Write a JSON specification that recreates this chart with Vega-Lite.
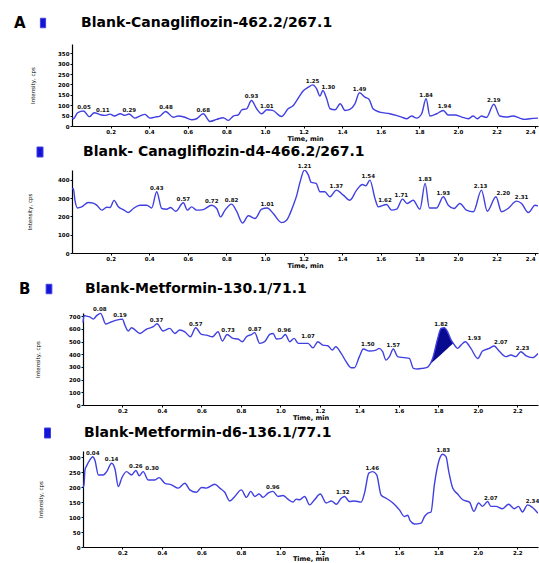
{
  "$schema": "https://vega.github.io/schema/vega-lite/v6.json",
  "background": "white",
  "padding": {"left": 14, "top": 16, "right": 0, "bottom": 0},
  "bounds": "flush",
  "spacing": 44,
  "resolve": {"scale": {"color": "independent", "x": "independent", "y": "independent"}, "legend": {"color": "independent"}},
  "config": {
    "view": {"stroke": null},
    "axis": {"grid": false, "domainColor": "#000", "domainWidth": 1.2, "tickColor": "#000", "tickSize": 2, "tickWidth": 1,
      "labelFont": "DejaVu Sans", "labelFontSize": 5.5, "labelFontWeight": "bold", "labelColor": "#000", "labelPadding": 1, "labelOverlap": false,
      "titleFont": "DejaVu Sans", "titleColor": "#000"},
    "axisX": {"titleFontSize": 6.5, "titleFontWeight": "bold", "titlePadding": 1},
    "axisY": {"titleFontSize": 5.5, "titleFontWeight": "normal", "titlePadding": 18},
    "legend": {"orient": "none", "padding": 0, "labelFont": "DejaVu Sans", "labelFontSize": 14, "labelFontWeight": "bold", "labelColor": "#000", "labelLimit": 600,
      "titleFont": "DejaVu Sans", "titleFontSize": 15, "titleFontWeight": "bold", "titleColor": "#000", "titleOrient": "left"}
  },
  "datasets": {
    "p1": [
      {"t":0,"v":40},{"t":0.007,"v":35},{"t":0.03,"v":65},{"t":0.06,"v":72},{"t":0.09,"v":45},{"t":0.115,"v":64},{"t":0.145,"v":55},{"t":0.17,"v":51},{"t":0.197,"v":57},{"t":0.22,"v":48},{"t":0.25,"v":59},{"t":0.275,"v":51},{"t":0.295,"v":58},{"t":0.326,"v":38},{"t":0.352,"v":48},{"t":0.378,"v":56},{"t":0.404,"v":38},{"t":0.43,"v":43},{"t":0.456,"v":48},{"t":0.485,"v":70},{"t":0.525,"v":42},{"t":0.55,"v":48},{"t":0.585,"v":42},{"t":0.62,"v":30},{"t":0.646,"v":35},{"t":0.68,"v":59},{"t":0.715,"v":22},{"t":0.75,"v":32},{"t":0.784,"v":40},{"t":0.81,"v":27},{"t":0.836,"v":48},{"t":0.862,"v":54},{"t":0.88,"v":78},{"t":0.905,"v":83},{"t":0.93,"v":123},{"t":0.957,"v":83},{"t":0.983,"v":59},{"t":1.01,"v":78},{"t":1.04,"v":75},{"t":1.086,"v":46},{"t":1.12,"v":83},{"t":1.147,"v":99},{"t":1.165,"v":123},{"t":1.2,"v":171},{"t":1.225,"v":187},{"t":1.247,"v":198},{"t":1.268,"v":179},{"t":1.285,"v":144},{"t":1.3,"v":171},{"t":1.32,"v":131},{"t":1.337,"v":83},{"t":1.363,"v":78},{"t":1.39,"v":107},{"t":1.415,"v":75},{"t":1.44,"v":80},{"t":1.466,"v":107},{"t":1.49,"v":160},{"t":1.518,"v":139},{"t":1.54,"v":128},{"t":1.56,"v":83},{"t":1.595,"v":67},{"t":1.647,"v":59},{"t":1.68,"v":51},{"t":1.708,"v":43},{"t":1.734,"v":35},{"t":1.76,"v":48},{"t":1.786,"v":38},{"t":1.812,"v":59},{"t":1.835,"v":131},{"t":1.855,"v":48},{"t":1.89,"v":59},{"t":1.924,"v":75},{"t":1.95,"v":53},{"t":1.984,"v":53},{"t":2.02,"v":43},{"t":2.053,"v":35},{"t":2.08,"v":48},{"t":2.1,"v":35},{"t":2.122,"v":48},{"t":2.148,"v":41},{"t":2.186,"v":105},{"t":2.217,"v":48},{"t":2.252,"v":43},{"t":2.286,"v":48},{"t":2.32,"v":38},{"t":2.347,"v":32},{"t":2.373,"v":35},{"t":2.415,"v":38}
    ],
    "l1": [
      {"t":0.062,"v":72,"label":"0.05"},{"t":0.16,"v":60,"label":"0.11"},{"t":0.297,"v":58,"label":"0.29"},{"t":0.487,"v":70,"label":"0.48"},{"t":0.68,"v":59,"label":"0.68"},{"t":0.93,"v":123,"label":"0.93"},{"t":1.01,"v":78,"label":"1.01"},{"t":1.247,"v":198,"label":"1.25"},{"t":1.328,"v":171,"label":"1.30"},{"t":1.49,"v":160,"label":"1.49"},{"t":1.835,"v":131,"label":"1.84"},{"t":1.93,"v":75,"label":"1.94"},{"t":2.186,"v":105,"label":"2.19"}
    ],
    "p2": [
      {"t":0,"v":350},{"t":0.007,"v":352},{"t":0.015,"v":290},{"t":0.028,"v":246},{"t":0.05,"v":252},{"t":0.085,"v":276},{"t":0.11,"v":272},{"t":0.128,"v":261},{"t":0.154,"v":234},{"t":0.18,"v":250},{"t":0.197,"v":248},{"t":0.218,"v":287},{"t":0.24,"v":252},{"t":0.266,"v":237},{"t":0.292,"v":221},{"t":0.318,"v":243},{"t":0.352,"v":261},{"t":0.387,"v":261},{"t":0.413,"v":246},{"t":0.439,"v":334},{"t":0.465,"v":243},{"t":0.49,"v":239},{"t":0.511,"v":248},{"t":0.537,"v":228},{"t":0.577,"v":274},{"t":0.598,"v":234},{"t":0.62,"v":252},{"t":0.646,"v":234},{"t":0.68,"v":237},{"t":0.724,"v":261},{"t":0.75,"v":243},{"t":0.77,"v":197},{"t":0.793,"v":234},{"t":0.827,"v":267},{"t":0.853,"v":228},{"t":0.884,"v":164},{"t":0.914,"v":203},{"t":0.948,"v":188},{"t":0.983,"v":239},{"t":1.012,"v":246},{"t":1.043,"v":215},{"t":1.086,"v":166},{"t":1.112,"v":179},{"t":1.13,"v":215},{"t":1.147,"v":261},{"t":1.165,"v":316},{"t":1.18,"v":380},{"t":1.205,"v":453},{"t":1.225,"v":425},{"t":1.24,"v":385},{"t":1.265,"v":380},{"t":1.285,"v":334},{"t":1.31,"v":334},{"t":1.337,"v":307},{"t":1.37,"v":343},{"t":1.406,"v":316},{"t":1.44,"v":288},{"t":1.475,"v":343},{"t":1.505,"v":374},{"t":1.523,"v":367},{"t":1.544,"v":398},{"t":1.57,"v":298},{"t":1.587,"v":252},{"t":1.63,"v":265},{"t":1.656,"v":234},{"t":1.682,"v":239},{"t":1.713,"v":294},{"t":1.737,"v":270},{"t":1.768,"v":288},{"t":1.803,"v":239},{"t":1.83,"v":380},{"t":1.852,"v":246},{"t":1.89,"v":246},{"t":1.924,"v":307},{"t":1.95,"v":261},{"t":1.98,"v":243},{"t":2.01,"v":270},{"t":2.044,"v":234},{"t":2.08,"v":225},{"t":2.122,"v":343},{"t":2.152,"v":228},{"t":2.197,"v":307},{"t":2.226,"v":225},{"t":2.26,"v":243},{"t":2.304,"v":283},{"t":2.33,"v":270},{"t":2.365,"v":221},{"t":2.4,"v":261},{"t":2.415,"v":257}
    ],
    "l2": [
      {"t":0.439,"v":334,"label":"0.43"},{"t":0.577,"v":274,"label":"0.57"},{"t":0.724,"v":261,"label":"0.72"},{"t":0.827,"v":267,"label":"0.82"},{"t":1.012,"v":246,"label":"1.01"},{"t":1.205,"v":453,"label":"1.21"},{"t":1.37,"v":343,"label":"1.37"},{"t":1.535,"v":398,"label":"1.54"},{"t":1.622,"v":265,"label":"1.62"},{"t":1.707,"v":294,"label":"1.71"},{"t":1.83,"v":380,"label":"1.83"},{"t":1.924,"v":307,"label":"1.93"},{"t":2.117,"v":343,"label":"2.13"},{"t":2.235,"v":307,"label":"2.20"},{"t":2.33,"v":283,"label":"2.31"}
    ],
    "p3": [
      {"t":0,"v":650},{"t":0.006,"v":705},{"t":0.018,"v":700},{"t":0.032,"v":696},{"t":0.052,"v":677},{"t":0.069,"v":704},{"t":0.089,"v":722},{"t":0.116,"v":638},{"t":0.145,"v":656},{"t":0.17,"v":669},{"t":0.2,"v":677},{"t":0.212,"v":630},{"t":0.229,"v":583},{"t":0.246,"v":609},{"t":0.288,"v":564},{"t":0.322,"v":598},{"t":0.356,"v":617},{"t":0.375,"v":640},{"t":0.406,"v":583},{"t":0.44,"v":604},{"t":0.465,"v":564},{"t":0.49,"v":591},{"t":0.516,"v":577},{"t":0.544,"v":538},{"t":0.571,"v":609},{"t":0.6,"v":556},{"t":0.625,"v":551},{"t":0.656,"v":538},{"t":0.684,"v":577},{"t":0.706,"v":504},{"t":0.73,"v":556},{"t":0.76,"v":525},{"t":0.785,"v":520},{"t":0.807,"v":499},{"t":0.828,"v":538},{"t":0.853,"v":555},{"t":0.87,"v":570},{"t":0.895,"v":486},{"t":0.92,"v":499},{"t":0.946,"v":556},{"t":0.963,"v":564},{"t":0.98,"v":520},{"t":1.005,"v":525},{"t":1.025,"v":556},{"t":1.047,"v":499},{"t":1.07,"v":525},{"t":1.09,"v":486},{"t":1.106,"v":486},{"t":1.14,"v":486},{"t":1.165,"v":451},{"t":1.19,"v":499},{"t":1.215,"v":472},{"t":1.24,"v":467},{"t":1.263,"v":433},{"t":1.28,"v":459},{"t":1.308,"v":407},{"t":1.333,"v":341},{"t":1.358,"v":294},{"t":1.375,"v":294},{"t":1.4,"v":381},{"t":1.42,"v":441},{"t":1.451,"v":425},{"t":1.485,"v":433},{"t":1.5,"v":446},{"t":1.518,"v":420},{"t":1.535,"v":354},{"t":1.552,"v":381},{"t":1.572,"v":441},{"t":1.594,"v":381},{"t":1.628,"v":373},{"t":1.653,"v":367},{"t":1.674,"v":289},{"t":1.696,"v":284},{"t":1.72,"v":289},{"t":1.74,"v":294},{"t":1.771,"v":367},{"t":1.797,"v":525},{"t":1.814,"v":604},{"t":1.83,"v":609},{"t":1.847,"v":577},{"t":1.865,"v":512},{"t":1.876,"v":486},{"t":1.898,"v":446},{"t":1.915,"v":472},{"t":1.937,"v":499},{"t":1.965,"v":446},{"t":2.0,"v":367},{"t":2.024,"v":425},{"t":2.058,"v":446},{"t":2.083,"v":465},{"t":2.108,"v":425},{"t":2.142,"v":381},{"t":2.168,"v":394},{"t":2.193,"v":381},{"t":2.218,"v":420},{"t":2.243,"v":389},{"t":2.277,"v":373},{"t":2.305,"v":407}
    ],
    "f3": [
      {"t":1.74,"v":294,"base":294},{"t":1.771,"v":367,"base":338},{"t":1.797,"v":525,"base":374},{"t":1.814,"v":604,"base":398},{"t":1.83,"v":609,"base":421},{"t":1.847,"v":577,"base":445},{"t":1.865,"v":512,"base":470},{"t":1.876,"v":486,"base":486}
    ],
    "l3": [
      {"t":0.085,"v":722,"label":"0.08"},{"t":0.187,"v":677,"label":"0.19"},{"t":0.372,"v":640,"label":"0.37"},{"t":0.571,"v":609,"label":"0.57"},{"t":0.735,"v":556,"label":"0.73"},{"t":0.87,"v":570,"label":"0.87"},{"t":1.02,"v":556,"label":"0.96"},{"t":1.14,"v":510,"label":"1.07"},{"t":1.443,"v":446,"label":"1.50"},{"t":1.572,"v":441,"label":"1.57"},{"t":1.814,"v":609,"label":"1.82"},{"t":1.982,"v":499,"label":"1.93"},{"t":2.117,"v":465,"label":"2.07"},{"t":2.227,"v":420,"label":"2.23"}
    ],
    "p4": [
      {"t":0,"v":200},{"t":0.005,"v":208},{"t":0.01,"v":258},{"t":0.019,"v":272},{"t":0.035,"v":291},{"t":0.049,"v":302},{"t":0.06,"v":291},{"t":0.078,"v":241},{"t":0.103,"v":241},{"t":0.12,"v":252},{"t":0.145,"v":280},{"t":0.162,"v":261},{"t":0.179,"v":202},{"t":0.196,"v":230},{"t":0.22,"v":252},{"t":0.246,"v":241},{"t":0.268,"v":256},{"t":0.285,"v":238},{"t":0.305,"v":252},{"t":0.33,"v":224},{"t":0.364,"v":224},{"t":0.386,"v":232},{"t":0.415,"v":213},{"t":0.448,"v":208},{"t":0.482,"v":197},{"t":0.516,"v":213},{"t":0.541,"v":191},{"t":0.575,"v":183},{"t":0.6,"v":199},{"t":0.625,"v":197},{"t":0.668,"v":210},{"t":0.693,"v":197},{"t":0.718,"v":183},{"t":0.743,"v":154},{"t":0.769,"v":169},{"t":0.802,"v":191},{"t":0.828,"v":166},{"t":0.85,"v":186},{"t":0.87,"v":169},{"t":0.892,"v":177},{"t":0.912,"v":166},{"t":0.937,"v":180},{"t":0.962,"v":186},{"t":0.988,"v":169},{"t":1.013,"v":172},{"t":1.038,"v":160},{"t":1.064,"v":150},{"t":1.08,"v":160},{"t":1.098,"v":158},{"t":1.123,"v":169},{"t":1.148,"v":141},{"t":1.173,"v":158},{"t":1.202,"v":177},{"t":1.232,"v":147},{"t":1.258,"v":154},{"t":1.283,"v":143},{"t":1.308,"v":163},{"t":1.325,"v":169},{"t":1.35,"v":152},{"t":1.375,"v":154},{"t":1.409,"v":150},{"t":1.426,"v":180},{"t":1.448,"v":247},{"t":1.468,"v":252},{"t":1.488,"v":241},{"t":1.51,"v":174},{"t":1.536,"v":163},{"t":1.57,"v":147},{"t":1.603,"v":124},{"t":1.628,"v":102},{"t":1.645,"v":106},{"t":1.657,"v":88},{"t":1.679,"v":77},{"t":1.713,"v":80},{"t":1.73,"v":102},{"t":1.746,"v":113},{"t":1.763,"v":117},{"t":1.78,"v":208},{"t":1.802,"v":286},{"t":1.822,"v":310},{"t":1.839,"v":302},{"t":1.853,"v":252},{"t":1.873,"v":197},{"t":1.898,"v":177},{"t":1.924,"v":158},{"t":1.958,"v":150},{"t":1.98,"v":119},{"t":2.004,"v":147},{"t":2.024,"v":136},{"t":2.05,"v":152},{"t":2.066,"v":136},{"t":2.092,"v":136},{"t":2.125,"v":128},{"t":2.156,"v":143},{"t":2.185,"v":128},{"t":2.206,"v":136},{"t":2.226,"v":117},{"t":2.252,"v":141},{"t":2.277,"v":132},{"t":2.305,"v":113}
    ],
    "l4": [
      {"t":0.049,"v":302,"label":"0.04"},{"t":0.145,"v":280,"label":"0.14"},{"t":0.268,"v":256,"label":"0.26"},{"t":0.35,"v":252,"label":"0.30"},{"t":0.962,"v":186,"label":"0.96"},{"t":1.316,"v":169,"label":"1.32"},{"t":1.465,"v":252,"label":"1.46"},{"t":1.825,"v":310,"label":"1.83"},{"t":2.066,"v":152,"label":"2.07"},{"t":2.277,"v":141,"label":"2.34"}
    ]
  },
  "vconcat": [
    {
      "width": 466, "height": 82,
      "encoding": {
        "x": {"field": "t", "type": "quantitative", "scale": {"domain": [0, 2.415], "nice": false},
          "axis": {"title": "Time, min", "values": [0.2,0.4,0.6,0.8,1.0,1.2,1.4,1.6,1.8,2.0,2.2,2.4], "format": ".1f", "labelOverlap": false,
            "labelAlign": {"condition": {"test": "datum.value > 2.35", "value": "right"}, "value": "center"}}},
        "y": {"field": "v", "type": "quantitative", "scale": {"domain": [0, 395], "nice": false},
          "axis": {"title": "Intensity, cps", "values": [0,50,100,150,200,250,300,350], "format": "d", "titlePadding": 22, "labelOverlap": false}}
      },
      "layer": [
        {
          "data": {"name": "p1"},
          "mark": {"type": "line", "interpolate": "monotone", "strokeWidth": 1.4, "clip": true},
          "encoding": {
            "color": {"datum": "Blank-Canagliflozin-462.2/267.1", "scale": {"range": ["#4040e0"]},
              "legend": {"title": "A", "legendX": -58, "legendY": -28, "titlePadding": 10, "labelOffset": 31,
                "encode": {"symbols": {"update": {"fill": {"value": "#1414d8"}, "stroke": {"value": "#000060"}, "strokeWidth": {"value": 1}, "shape": {"value": "M-0.55,-1H0.55V1H-0.55Z"}, "size": {"value": 90}, "opacity": {"value": 1}}}}}}
          }
        },
        {
          "data": {"name": "l1"},
          "mark": {"type": "text", "baseline": "bottom", "dy": -1, "font": "DejaVu Sans", "fontSize": 5.5, "fontWeight": "bold", "fill": "#111"},
          "encoding": {"text": {"field": "label"}}
        }
      ]
    },
    {
      "width": 466, "height": 83,
      "encoding": {
        "x": {"field": "t", "type": "quantitative", "scale": {"domain": [0, 2.415], "nice": false},
          "axis": {"title": "Time, min", "values": [0.2,0.4,0.6,0.8,1.0,1.2,1.4,1.6,1.8,2.0,2.2,2.4], "format": ".1f", "labelOverlap": false,
            "labelAlign": {"condition": {"test": "datum.value > 2.35", "value": "right"}, "value": "center"}}},
        "y": {"field": "v", "type": "quantitative", "scale": {"domain": [0, 453], "nice": false},
          "axis": {"title": "Intensity, cps", "values": [0,100,200,300,400], "format": "d", "titlePadding": 25, "labelOverlap": false}}
      },
      "layer": [
        {
          "data": {"name": "p2"},
          "mark": {"type": "line", "interpolate": "monotone", "strokeWidth": 1.4, "clip": true},
          "encoding": {
            "color": {"datum": "Blank- Canagliflozin-d4-466.2/267.1", "scale": {"range": ["#4040e0"]},
              "legend": {"title": null, "legendX": -39, "legendY": -25, "labelOffset": 36,
                "encode": {"symbols": {"update": {"fill": {"value": "#1414d8"}, "stroke": {"value": "#000060"}, "strokeWidth": {"value": 1}, "shape": {"value": "M-0.6,-1H0.6V1H-0.6Z"}, "size": {"value": 100}, "opacity": {"value": 1}}}}}}
          }
        },
        {
          "data": {"name": "l2"},
          "mark": {"type": "text", "baseline": "bottom", "dy": -1, "font": "DejaVu Sans", "fontSize": 5.5, "fontWeight": "bold", "fill": "#111"},
          "encoding": {"text": {"field": "label"}}
        }
      ]
    },
    {
      "width": 466, "height": 108,
      "encoding": {
        "x": {"field": "t", "type": "quantitative", "scale": {"domain": [0, 2.305], "range": [11, 466], "nice": false},
          "axis": {"title": "Time, min", "values": [0.2,0.4,0.6,0.8,1.0,1.2,1.4,1.6,1.8,2.0,2.2], "format": ".1f", "labelOverlap": false}},
        "y": {"field": "v", "type": "quantitative", "scale": {"domain": [0, 725], "range": [108, 16], "nice": false},
          "axis": {"title": "Intensity, cps", "values": [0,100,200,300,400,500,600,700], "format": "d", "offset": -11, "titlePadding": 28, "labelOverlap": false}}
      },
      "layer": [
        {
          "data": {"name": "f3"},
          "mark": {"type": "area", "interpolate": "monotone", "fill": "#0a0a90", "opacity": 1},
          "encoding": {"y2": {"field": "base"}}
        },
        {
          "data": {"name": "p3"},
          "mark": {"type": "line", "interpolate": "monotone", "strokeWidth": 1.4, "clip": true},
          "encoding": {
            "color": {"datum": "Blank-Metformin-130.1/71.1", "scale": {"range": ["#4040e0"]},
              "legend": {"title": "B", "legendX": -53, "legendY": -15, "titlePadding": 11, "labelOffset": 29,
                "encode": {"symbols": {"update": {"fill": {"value": "#1414d8"}, "stroke": {"value": "#000060"}, "strokeWidth": {"value": 1}, "shape": {"value": "M-0.6,-1H0.6V1H-0.6Z"}, "size": {"value": 90}, "opacity": {"value": 1}}}}}}
          }
        },
        {
          "data": {"name": "l3"},
          "mark": {"type": "text", "baseline": "bottom", "dy": -1, "font": "DejaVu Sans", "fontSize": 5.5, "fontWeight": "bold", "fill": "#111"},
          "encoding": {"text": {"field": "label"}}
        }
      ]
    },
    {
      "width": 466, "height": 98,
      "encoding": {
        "x": {"field": "t", "type": "quantitative", "scale": {"domain": [0, 2.305], "range": [11, 466], "nice": false},
          "axis": {"title": "Time, min", "values": [0.2,0.4,0.6,0.8,1.0,1.2,1.4,1.6,1.8,2.0,2.2], "format": ".1f", "titlePadding": 0, "labelOverlap": false}},
        "y": {"field": "v", "type": "quantitative", "scale": {"domain": [0, 321], "range": [98, 2], "nice": false},
          "axis": {"title": "Intensity, cps", "values": [0,50,100,150,200,250,300], "format": "d", "offset": -11, "titlePadding": 25, "labelOverlap": false}}
      },
      "layer": [
        {
          "data": {"name": "p4"},
          "mark": {"type": "line", "interpolate": "monotone", "strokeWidth": 1.4, "clip": true},
          "encoding": {
            "color": {"datum": "Blank-Metformin-d6-136.1/77.1", "scale": {"range": ["#4040e0"]},
              "legend": {"title": null, "legendX": -31.5, "legendY": -23, "labelOffset": 29.5,
                "encode": {"symbols": {"update": {"fill": {"value": "#1414d8"}, "stroke": {"value": "#000060"}, "strokeWidth": {"value": 1}, "shape": {"value": "M-0.6,-1H0.6V1H-0.6Z"}, "size": {"value": 100}, "opacity": {"value": 1}}}}}}
          }
        },
        {
          "data": {"name": "l4"},
          "mark": {"type": "text", "baseline": "bottom", "dy": -1, "font": "DejaVu Sans", "fontSize": 5.5, "fontWeight": "bold", "fill": "#111"},
          "encoding": {"text": {"field": "label"}}
        }
      ]
    }
  ]
}
